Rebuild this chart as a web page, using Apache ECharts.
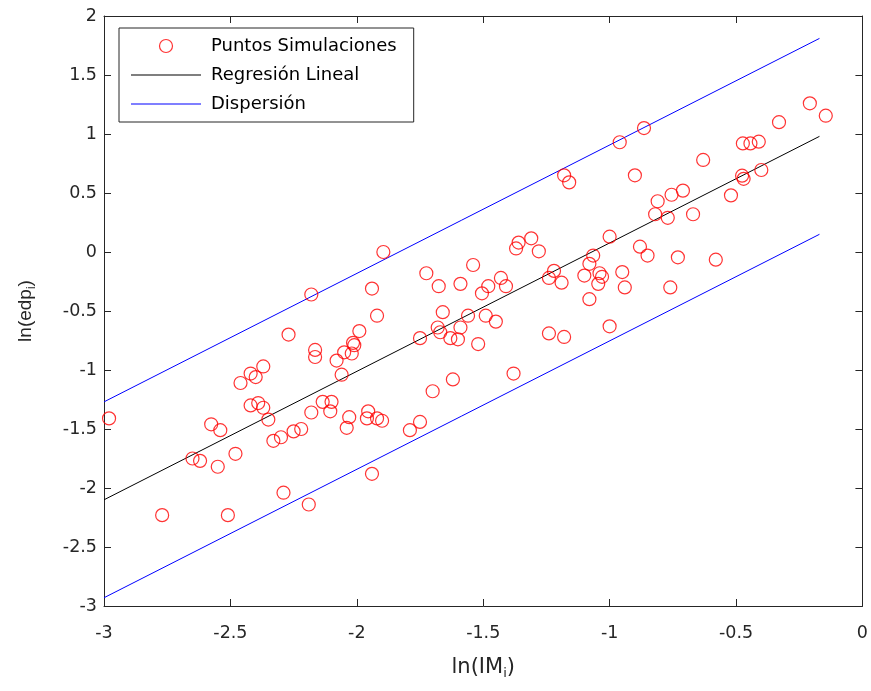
<!DOCTYPE html>
<html>
<head>
<meta charset="utf-8">
<script src="https://cdn.jsdelivr.net/npm/echarts@6/dist/echarts.min.js"></script>
<style>
html,body{margin:0;padding:0;background:#fff;}
#chart{width:871px;height:691px;}
</style>
</head>
<body>
<div id="chart"></div>
<script>
// Simulation points ln(IM_i), ln(edp_i)
const pointsX = [
 -2.98,-2.77,-2.65,-2.62,-2.576,-2.54,-2.55,-2.51,-2.48,-2.46,
 -2.42,-2.40,-2.37,-2.42,-2.39,-2.37,-2.35,-2.33,-2.30,-2.25,
 -2.22,-2.29,-2.19,-2.27,-2.18,-2.165,-2.165,-2.18,-2.135,-2.10,
 -2.105,-2.08,-2.06,-2.05,-2.02,-2.015,-2.01,-1.99,-2.03,-2.04,
 -1.955,-1.96,-1.92,-1.90,-1.94,-1.94,-1.92,-1.895,-1.79,-1.75,
 -1.75,-1.725,-1.70,-1.676,-1.66,-1.68,-1.67,-1.63,-1.62,-1.60,
 -1.59,-1.59,-1.56,-1.54,-1.52,-1.505,-1.48,-1.49,-1.45,-1.43,
 -1.41,-1.38,-1.37,-1.36,-1.31,-1.28,-1.24,-1.24,-1.22,-1.19,
 -1.18,-1.18,-1.16,-1.10,-1.08,-1.08,-1.065,-1.04,-1.03,-1.045,
 -1.00,-1.00,-0.96,-0.95,-0.94,-0.90,-0.88,-0.864,-0.85,-0.82,
 -0.81,-0.77,-0.76,-0.755,-0.73,-0.71,-0.67,-0.63,-0.58,-0.52,
 -0.476,-0.47,-0.473,-0.443,-0.41,-0.40,-0.33,-0.208,-0.145
];
const pointsY = [
 -1.41,-2.23,-1.75,-1.77,-1.46,-1.51,-1.82,-2.23,-1.71,-1.11,
 -1.03,-1.06,-0.97,-1.30,-1.28,-1.32,-1.42,-1.60,-1.57,-1.52,
 -1.50,-2.04,-2.14,-0.70,-0.36,-0.83,-0.89,-1.36,-1.27,-1.27,
 -1.35,-0.92,-1.04,-0.85,-0.86,-0.77,-0.79,-0.67,-1.40,-1.49,
 -1.35,-1.41,-1.41,-1.43,-1.88,-0.31,-0.54,0.00,-1.51,-1.44,
 -0.73,-0.18,-1.18,-0.29,-0.51,-0.64,-0.68,-0.73,-1.08,-0.74,
 -0.64,-0.27,-0.54,-0.11,-0.78,-0.35,-0.29,-0.54,-0.59,-0.22,
 -0.29,-1.03,0.03,0.08,0.116,0.006,-0.69,-0.22,-0.16,-0.26,
 -0.72,0.65,0.59,-0.20,-0.40,-0.10,-0.03,-0.18,-0.21,-0.27,
 0.13,-0.63,0.93,-0.17,-0.30,0.65,0.045,1.05,-0.03,0.32,
 0.43,0.29,-0.30,0.485,-0.045,0.52,0.32,0.78,-0.065,0.48,
 0.647,0.62,0.92,0.92,0.935,0.695,1.10,1.26,1.155
];
// Regression and dispersion lines (endpoints)
const lineX = [-3, -0.17];
const regY = [-2.10, 0.98];
const upperY = [-1.27, 1.81];
const lowerY = [-2.93, 0.15];
// Axis ticks
const xTicks = [-3, -2.5, -2, -1.5, -1, -0.5, 0];
const yTicks = [-3, -2.5, -2, -1.5, -1, -0.5, 0, 0.5, 1, 1.5, 2];
const seriesNames = ['Puntos Simulaciones', 'Regresión Lineal', 'Dispersión'];

const FONT = 'DejaVu Sans';
const FONT_V = 'Liberation Sans';
const AX = '#262626';
const zip = (a, b) => a.map((v, i) => [v, b[i]]);
const LINE_ICON = 'path://M0,0 L70,0 L70,1.2 L0,1.2 Z';

function axisCommon(extra) {
  return Object.assign({
    type: 'value',
    axisLine: { show: true, onZero: false, lineStyle: { color: AX, width: 1 } },
    axisTick: { show: true, inside: true, length: 7, lineStyle: { color: AX, width: 1 } },
    splitLine: { show: false },
    axisLabel: { show: false }
  }, extra);
}

const chart = echarts.init(document.getElementById('chart'), null, { renderer: 'canvas' });
chart.setOption({
  backgroundColor: '#ffffff',
  animation: false,
  textStyle: { fontFamily: FONT },
  grid: { left: 104, right: 6, top: 16, bottom: 85, containLabel: false },
  xAxis: [
    axisCommon({
      position: 'bottom', min: xTicks[0], max: xTicks[xTicks.length - 1], interval: 0.5,
      axisLabel: { show: true, color: AX, fontSize: 17.5, fontFamily: FONT, margin: 18 },
      name: '{a|ln(IM}{b|i}{a|)}', nameLocation: 'middle', nameGap: 49,
      nameTextStyle: {
        rich: {
          a: { fontSize: 21, color: AX, fontFamily: FONT },
          b: { fontSize: 13, color: AX, fontFamily: FONT, padding: [12, 0, 0, 0] }
        }
      }
    }),
    axisCommon({ position: 'top', min: xTicks[0], max: xTicks[xTicks.length - 1], interval: 0.5 })
  ],
  yAxis: [
    axisCommon({
      position: 'left', min: yTicks[0], max: yTicks[yTicks.length - 1], interval: 0.5,
      axisLabel: { show: true, color: AX, fontSize: 17.5, fontFamily: FONT, margin: 7 },
      name: '{a|ln(edp}{b|i}{a|)}', nameLocation: 'middle', nameGap: 66, nameRotate: 90,
      nameTextStyle: {
        rich: {
          a: { fontSize: 19, color: AX, fontFamily: FONT_V },
          b: { fontSize: 12, color: AX, fontFamily: FONT_V, padding: [12, 0, 0, 0] }
        }
      }
    }),
    axisCommon({ position: 'right', min: yTicks[0], max: yTicks[yTicks.length - 1], interval: 0.5 })
  ],
  legend: {
    orient: 'vertical', left: 119, top: 28,
    padding: [9, 17, 9, 12],
    itemWidth: 70, itemHeight: 13, itemGap: 11,
    backgroundColor: '#ffffff', borderColor: AX, borderWidth: 1,
    textStyle: { fontSize: 18, color: '#000', fontFamily: FONT, padding: [0, 0, 0, 5], lineHeight: 18 },
    data: [
      { name: seriesNames[0], icon: 'circle', itemStyle: { color: 'rgba(0,0,0,0)', borderColor: '#ff0000', borderWidth: 1.2 } },
      { name: seriesNames[1], icon: LINE_ICON, itemStyle: { color: '#000000', borderWidth: 0 } },
      { name: seriesNames[2], icon: LINE_ICON, itemStyle: { color: '#0000ff', borderWidth: 0 } }
    ]
  },
  series: [
    {
      name: seriesNames[0], type: 'scatter', xAxisIndex: 0, yAxisIndex: 0,
      data: zip(pointsX, pointsY), symbol: 'circle', symbolSize: 13,
      itemStyle: { color: 'rgba(0,0,0,0)', borderColor: '#ff0000', borderWidth: 1.2 },
      emphasis: { disabled: true }, z: 3
    },
    {
      name: seriesNames[1], type: 'line', xAxisIndex: 0, yAxisIndex: 0,
      data: zip(lineX, regY), symbol: 'none', showSymbol: false,
      lineStyle: { color: '#000000', width: 1 }, itemStyle: { color: '#000000' }, z: 2
    },
    {
      name: seriesNames[2], type: 'line', xAxisIndex: 0, yAxisIndex: 0,
      data: zip(lineX, upperY), symbol: 'none', showSymbol: false,
      lineStyle: { color: '#0000ff', width: 1 }, itemStyle: { color: '#0000ff' }, z: 2
    },
    {
      name: seriesNames[2], type: 'line', xAxisIndex: 0, yAxisIndex: 0,
      data: zip(lineX, lowerY), symbol: 'none', showSymbol: false,
      lineStyle: { color: '#0000ff', width: 1 }, itemStyle: { color: '#0000ff' }, z: 2
    }
  ]
});
</script>
</body>
</html>
